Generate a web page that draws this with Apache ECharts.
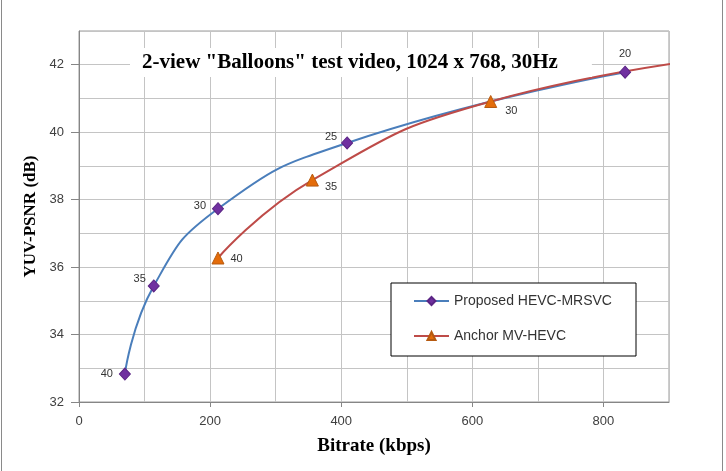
<!DOCTYPE html>
<html>
<head>
<meta charset="utf-8">
<script src="https://cdn.jsdelivr.net/npm/echarts@6/dist/echarts.min.js"></script>
<style>
  html, body { margin: 0; padding: 0; background: #fff; }
  #chart { width: 726px; height: 471px; }
</style>
</head>
<body>
<div id="chart"></div>
<script>
// axis tick labels
const bitrateTicks = [0, 200, 400, 600, 800]
const psnrTicks = [32, 34, 36, 38, 40, 42]

// Proposed HEVC-MRSVC (QP values as point labels)
const proposedRate = [70, 114, 212, 409, 833]
const proposedPsnr = [32.83, 35.44, 37.73, 39.68, 41.78]
const proposedQp = ['40', '35', '30', '25', '20']

// Anchor MV-HEVC (last point lies beyond the 900 kbps edge)
const anchorRate = [212, 356, 628, 1060]
const anchorPsnr = [36.27, 38.58, 40.91, 42.4]
const anchorQp = ['40', '35', '30', '25']

// where each point label sits
const proposedLabelPlace = [
  { position: 'left', offset: [0, 0] },
  { position: 'left', offset: [4, -7] },
  { position: 'left', offset: [0, -3] },
  { position: 'left', offset: [2, -6] },
  { position: 'top', offset: [0, 0] }
]
const anchorLabelPlace = [
  { position: 'right', offset: [0, 1] },
  { position: 'right', offset: [0, 7] },
  { position: 'right', offset: [2, 9] },
  { position: 'right', offset: [0, 0] }
]

function buildPoints (xs, ys, labels, places) {
  return xs.map((x, i) => ({
    value: [x, ys[i]],
    label: {
      show: true,
      formatter: labels[i],
      position: places[i].position,
      offset: places[i].offset
    }
  }))
}

const tickFont = { color: '#404040', fontFamily: 'Liberation Sans', fontSize: 13 }
const nameFont = { color: '#000', fontFamily: 'Liberation Serif', fontWeight: 'bold' }

const option = {
  animation: false,
  backgroundColor: '#fff',
  title: {
    text: '2-view "Balloons" test video, 1024 x 768, 30Hz',
    left: 130,
    top: 48,
    padding: [4, 34, 4, 12],
    backgroundColor: '#fff',
    textStyle: {
      color: '#000',
      fontFamily: 'Liberation Serif',
      fontWeight: 'bold',
      fontSize: 21
    }
  },
  legend: {
    orient: 'vertical',
    left: 413,
    top: 294,
    padding: 0,
    itemWidth: 35,
    itemHeight: 10,
    itemGap: 21,
    textStyle: { color: '#333', fontFamily: 'Liberation Sans', fontSize: 14 },
    data: ['Proposed HEVC-MRSVC', 'Anchor MV-HEVC']
  },
  graphic: [
    {
      type: 'rect',
      z: 3,
      shape: { x: 391, y: 283, width: 245, height: 73 },
      style: { fill: '#fff', stroke: '#000', lineWidth: 1 }
    },
    {
      type: 'line',
      shape: { x1: 1.5, y1: 0, x2: 1.5, y2: 471 },
      style: { stroke: '#8a8a8a', lineWidth: 1 }
    },
    {
      type: 'line',
      shape: { x1: 722.5, y1: 0, x2: 722.5, y2: 471 },
      style: { stroke: '#8a8a8a', lineWidth: 1 }
    }
  ],
  grid: {
    left: 79,
    right: 57,
    top: 31,
    bottom: 69,
    show: true,
    borderColor: '#9a9a9a',
    borderWidth: 1
  },
  xAxis: [
    {
      type: 'value',
      min: 0,
      max: 900,
      interval: 100,
      position: 'bottom',
      axisLine: { show: true, lineStyle: { color: '#868686' } },
      axisTick: { show: false },
      axisLabel: { show: false },
      splitLine: { show: true, lineStyle: { color: '#c4c4c4' } }
    },
    {
      type: 'value',
      min: 0,
      max: 900,
      interval: 100,
      position: 'bottom',
      name: 'Bitrate (kbps)',
      nameLocation: 'middle',
      nameGap: 35,
      nameTextStyle: Object.assign({ fontSize: 19 }, nameFont),
      axisLine: { show: false },
      axisTick: { show: true, length: 5, customValues: bitrateTicks, lineStyle: { color: '#868686' } },
      axisLabel: Object.assign({ margin: 13, customValues: bitrateTicks }, tickFont),
      splitLine: { show: false }
    }
  ],
  yAxis: [
    {
      type: 'value',
      min: 32,
      max: 43,
      interval: 1,
      position: 'left',
      axisLine: { show: true, lineStyle: { color: '#868686' } },
      axisTick: { show: false },
      axisLabel: { show: false },
      splitLine: { show: true, lineStyle: { color: '#c4c4c4' } }
    },
    {
      type: 'value',
      min: 32,
      max: 43,
      interval: 1,
      position: 'left',
      name: 'YUV-PSNR (dB)',
      nameLocation: 'middle',
      nameRotate: 90,
      nameGap: 35,
      nameTextStyle: Object.assign({ fontSize: 17 }, nameFont),
      axisLine: { show: false },
      axisTick: { show: true, length: 8, customValues: psnrTicks, lineStyle: { color: '#868686' } },
      axisLabel: Object.assign({ margin: 15, customValues: psnrTicks }, tickFont),
      splitLine: { show: false }
    }
  ],
  series: [
    {
      name: 'Proposed HEVC-MRSVC',
      type: 'line',
      smooth: 0.5,
      symbol: 'diamond',
      symbolSize: [11, 12],
      lineStyle: { color: '#4a7ebb', width: 2 },
      itemStyle: { color: '#7030a0', borderColor: '#5b2585', borderWidth: 1 },
      label: { color: '#333', fontFamily: 'Liberation Sans', fontSize: 11, distance: 6 },
      data: buildPoints(proposedRate, proposedPsnr, proposedQp, proposedLabelPlace)
    },
    {
      name: 'Anchor MV-HEVC',
      type: 'line',
      smooth: 0.5,
      symbol: 'triangle',
      symbolSize: [12, 12],
      lineStyle: { color: '#be4b48', width: 2 },
      itemStyle: { color: '#e46c0a', borderColor: '#b65a10', borderWidth: 1 },
      label: { color: '#333', fontFamily: 'Liberation Sans', fontSize: 11, distance: 6 },
      data: buildPoints(anchorRate, anchorPsnr, anchorQp, anchorLabelPlace)
    }
  ]
}

const myChart = echarts.init(document.getElementById('chart'))
myChart.setOption(option)
window.addEventListener('resize', () => {
  myChart.resize()
})
</script>
</body>
</html>
